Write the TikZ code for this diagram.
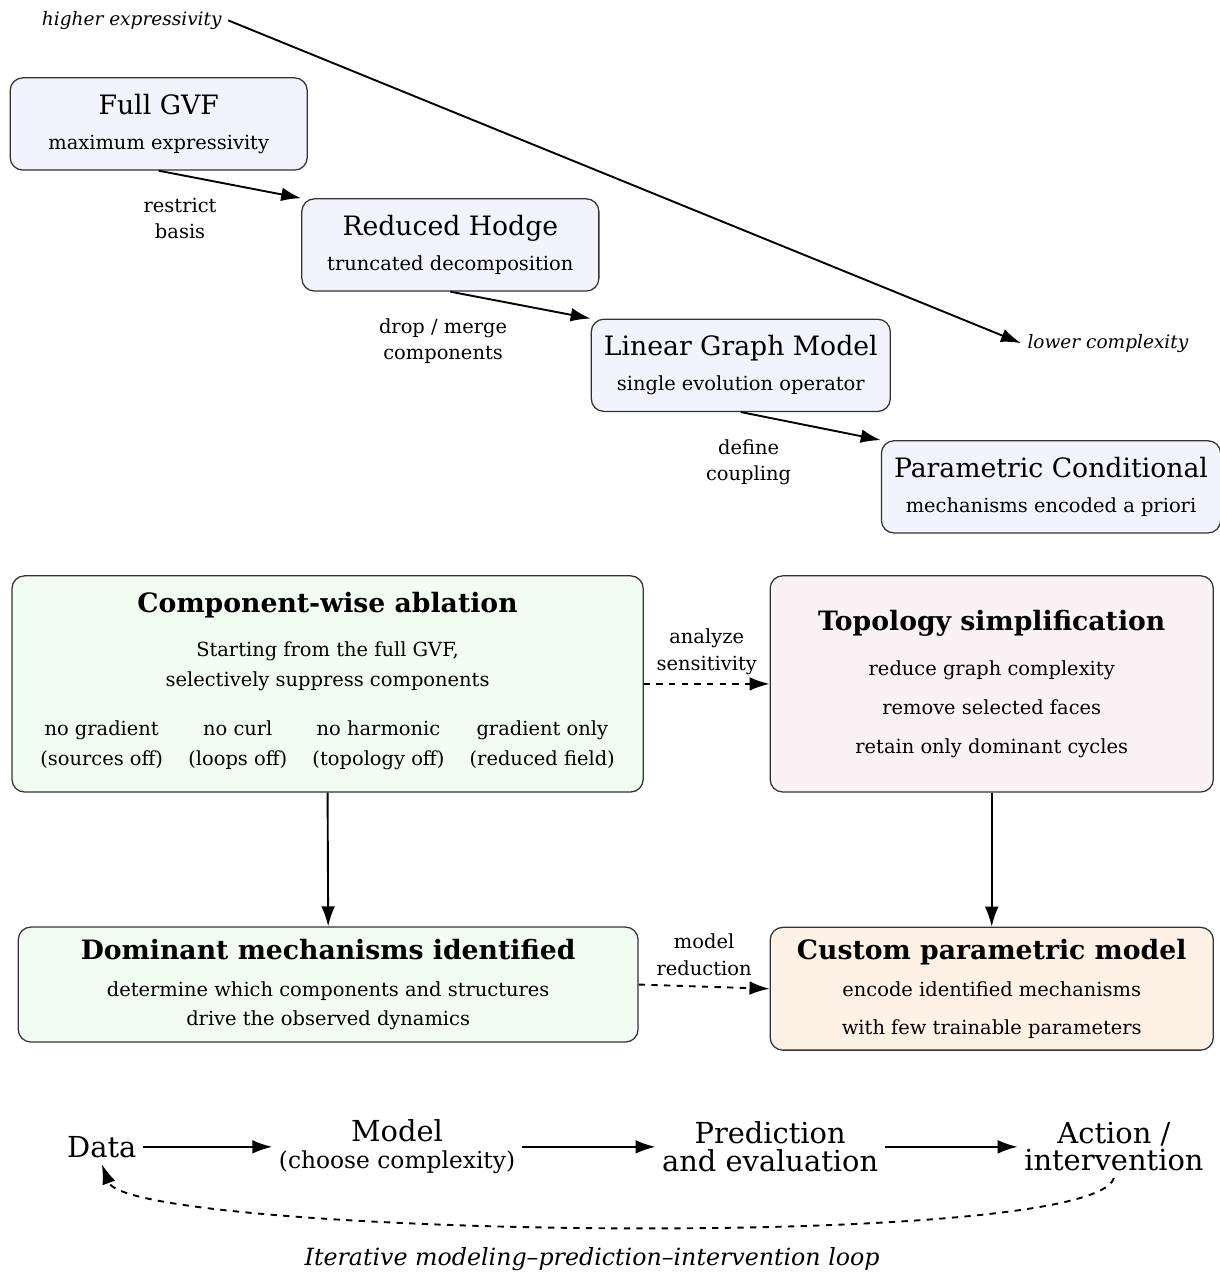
\documentclass[tikz,border=0pt]{standalone}
\usepackage{fontspec}
\setmainfont{DejaVu Serif}[Scale=0.88]
\usepackage{tikz}
\usetikzlibrary{arrows.meta,positioning}
\tikzset{font={\fontsize{10.5pt}{12.6}\selectfont}}
\definecolor{gvfblue}{HTML}{F3F3FE}
\definecolor{ablgreen}{HTML}{F0FDF0}
\definecolor{topopink}{HTML}{F8F2F5}
\definecolor{custpeach}{HTML}{FEF2E7}
\newcommand{\boxtitle}{\fontsize{14.4pt}{16}\selectfont}

\begin{document}
\begin{tikzpicture}[
>={Latex[length=9.5pt,width=6.5pt]},
stage box/.style={draw=black!80,line width=0.6pt,rounded corners=6pt,fill=gvfblue,
  align=center,minimum width=4.96cm,minimum height=1.54cm,inner xsep=6pt},
study box/.style={draw=black!80,line width=0.6pt,rounded corners=6pt,align=center},
flow/.style={->,line width=0.9pt},
loop step/.style={align=center,font={\fontsize{15.6pt}{13}\selectfont}}
]
\useasboundingbox (0,0) rectangle (20.36,-21.24);

% complexity ladder
\node[font={\itshape\fontsize{10pt}{12}\selectfont}] (hexp) at (2.20,-0.34) {higher expressivity};
\node[font={\itshape\fontsize{10pt}{12}\selectfont}] (lcomp) at (18.50,-5.73) {lower complexity};
\draw[flow] (hexp.east) -- (lcomp.west);

\node[stage box] (full) at (2.65,-2.07) {{\boxtitle Full GVF}\\[4pt] maximum expressivity};
\node[stage box] (hodge) at (7.52,-4.09) {{\boxtitle Reduced Hodge}\\[4pt] truncated decomposition};
\node[stage box] (lin) at (12.37,-6.10) {{\boxtitle Linear Graph Model}\\[4pt] single evolution operator};
\node[stage box,minimum width=5.61cm] (par) at (17.55,-8.13) {{\boxtitle Parametric Conditional}\\[4pt] mechanisms encoded a priori};

\draw[flow] (full.south) -- (hodge.north west) node[midway,below left=3pt and 3pt,align=center] {restrict\\basis};
\draw[flow] (hodge.south) -- (lin.north west) node[midway,below left=3pt and 3pt,align=center] {drop / merge\\components};
\draw[flow] (lin.south) -- (par.north west) node[midway,below left=3pt and 6pt,align=center] {define\\coupling};

% ablation study
\node[study box,fill=ablgreen,minimum width=10.54cm,minimum height=3.61cm] (abl) at (5.47,-11.42) {%
{\boxtitle\bfseries Component-wise ablation}\\[8pt]
Starting from the full GVF,\\[1.8pt]
selectively suppress components\\[10pt]
\setlength{\tabcolsep}{6pt}\renewcommand{\arraystretch}{1.15}%
\begin{tabular}{cccc}
no gradient & no curl & no harmonic & gradient only\\
(sources off) & (loops off) & (topology off) & (reduced field)
\end{tabular}};
\node[study box,fill=topopink,minimum width=7.40cm,minimum height=3.61cm] (topo) at (16.56,-11.42) {%
{\boxtitle\bfseries Topology simplification}\\[9pt]
reduce graph complexity\\[6pt]
remove selected faces\\[6pt]
retain only dominant cycles};
\node[study box,fill=ablgreen,minimum width=10.35cm,minimum height=1.92cm] (dom) at (5.48,-16.44) {%
{\boxtitle\bfseries Dominant mechanisms identified}\\[5pt]
determine which components and structures\\[1.5pt]
drive the observed dynamics};
\node[study box,fill=custpeach,minimum width=7.40cm,minimum height=2.05cm] (cust) at (16.56,-16.51) {%
{\boxtitle\bfseries Custom parametric model}\\[5pt]
encode identified mechanisms\\[5.5pt]
with few trainable parameters};

\draw[flow,dashed] (abl.east) -- (topo.west) node[midway,above=1pt,align=center] {analyze\\sensitivity};
\draw[flow,dashed] (dom.east) -- (cust.west) node[midway,above=2pt,align=center] {model\\reduction};
\draw[flow] (abl.south) -- (dom.north);
\draw[flow] (topo.south) -- (cust.north);

% modeling loop
\node[loop step] (data) at (1.70,-19.15) {Data};
\node[loop step] (model) at (6.63,-19.15) {Model\\{\fontsize{12.6pt}{13}\selectfont(choose complexity)}};
\node[loop step] (pred) at (12.86,-19.15) {Prediction\\and evaluation};
\node[loop step] (act) at (18.60,-19.15) {Action /\\intervention};
\draw[flow] (data) -- (model);
\draw[flow] (model) -- (pred);
\draw[flow] (pred) -- (act);
\draw[flow,dashed] (act.south) .. controls +(-0.35,-1.25) and +(0.45,-1.2) .. (data.south)
  node[midway,below=7pt,xshift=-0.3cm,font={\itshape\fontsize{12.8pt}{14}\selectfont}] {Iterative modeling--prediction--intervention loop};
\end{tikzpicture}
\end{document}
